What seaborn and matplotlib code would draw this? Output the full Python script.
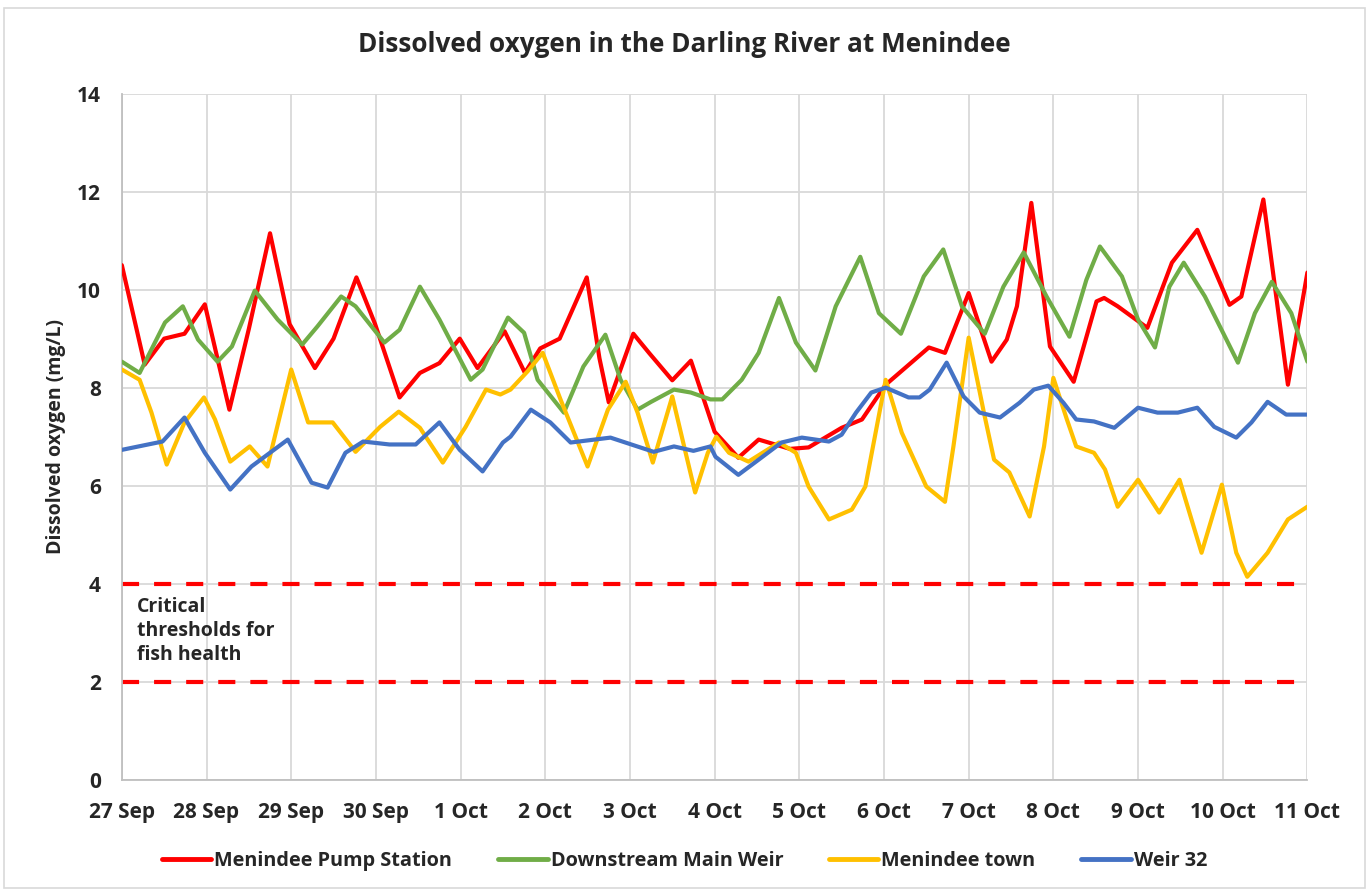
import numpy as np
import matplotlib.pyplot as plt
import pandas as pd
import seaborn as sns

# days after 27 Sep (0 = 27 Sep, 14 = 11 Oct), values in mg/L
pump_t = [0.0, 0.27, 0.5, 0.74, 0.98, 1.27, 1.5, 1.75, 1.98, 2.28, 2.5, 2.77, 2.99, 3.28, 3.52, 3.75, 3.99,
          4.2, 4.52, 4.76, 4.94, 5.17, 5.49, 5.64, 5.75, 6.04, 6.23, 6.5, 6.72, 7.0, 7.28, 7.52, 7.89, 8.11,
          8.5, 8.74, 9.02, 9.53, 9.72, 10.0, 10.27, 10.45, 10.57, 10.74, 10.96, 11.24, 11.51, 11.6, 11.76,
          12.11, 12.4, 12.7, 13.08, 13.22, 13.48, 13.77, 14.0]
pump_v = [10.5, 8.47, 9.0, 9.1, 9.7, 7.55, 9.2, 11.15, 9.3, 8.4, 9.0, 10.25, 9.3, 7.8, 8.3, 8.5, 9.0,
          8.4, 9.15, 8.3, 8.8, 9.0, 10.25, 8.6, 7.7, 9.1, 8.7, 8.15, 8.55, 7.1, 6.57, 6.94, 6.75, 6.78,
          7.18, 7.35, 8.06, 8.82, 8.71, 9.93, 8.53, 8.98, 9.66, 11.77, 8.84, 8.12, 9.76, 9.83, 9.66,
          9.22, 10.55, 11.22, 9.69, 9.86, 11.84, 8.06, 10.35]

weir_main_t = [0.0, 0.21, 0.51, 0.72, 0.9, 1.13, 1.3, 1.57, 1.84, 2.13, 2.31, 2.59, 2.76, 3.1, 3.28, 3.52,
               3.75, 4.12, 4.26, 4.56, 4.75, 4.91, 5.22, 5.45, 5.71, 5.89, 6.09, 6.25, 6.52, 6.72, 6.95,
               7.09, 7.32, 7.52, 7.76, 7.96, 8.19, 8.43, 8.72, 8.94, 9.2, 9.47, 9.7, 9.92, 10.19, 10.41,
               10.65, 10.92, 11.19, 11.39, 11.55, 11.81, 12.0, 12.2, 12.37, 12.54, 12.79, 13.18, 13.38,
               13.58, 13.81, 14.0]
weir_main_v = [8.53, 8.3, 9.33, 9.66, 8.98, 8.53, 8.84, 9.98, 9.39, 8.88, 9.25, 9.86, 9.66, 8.92, 9.18, 10.06,
               9.39, 8.16, 8.37, 9.43, 9.12, 8.16, 7.49, 8.43, 9.08, 8.16, 7.55, 7.71, 7.96, 7.9, 7.76,
               7.76, 8.16, 8.71, 9.83, 8.92, 8.35, 9.66, 10.67, 9.52, 9.1, 10.27, 10.82, 9.66, 9.1, 10.06,
               10.76, 9.86, 9.04, 10.2, 10.88, 10.27, 9.39, 8.82, 10.06, 10.55, 9.86, 8.51, 9.52,
               10.16, 9.52, 8.53]

town_t = [0.0, 0.21, 0.35, 0.53, 0.74, 0.97, 1.1, 1.28, 1.51, 1.72, 2.0, 2.2, 2.49, 2.76, 3.05, 3.27, 3.52,
          3.79, 4.06, 4.3, 4.47, 4.59, 4.79, 4.97, 5.18, 5.5, 5.74, 5.95, 6.09, 6.27, 6.5, 6.64, 6.77, 6.92,
          7.02, 7.17, 7.4, 7.76, 7.96, 8.11, 8.35, 8.62, 8.78, 9.02, 9.21, 9.5, 9.72, 9.82, 10.0, 10.18,
          10.3, 10.48, 10.72, 10.89, 11.0, 11.16, 11.27, 11.48, 11.61, 11.76, 12.0, 12.25, 12.49, 12.75,
          12.99, 13.16, 13.29, 13.53, 13.77, 14.0]
town_v = [8.37, 8.16, 7.49, 6.43, 7.29, 7.8, 7.35, 6.49, 6.8, 6.39, 8.37, 7.29, 7.29, 6.69, 7.2, 7.51, 7.18,
          6.47, 7.2, 7.96, 7.86, 7.96, 8.33, 8.71, 7.76, 6.39, 7.55, 8.12, 7.49, 6.47, 7.82, 6.8, 5.86, 6.67,
          7.0, 6.67, 6.49, 6.88, 6.67, 5.98, 5.31, 5.51, 5.98, 8.16, 7.08, 5.98, 5.67, 6.8, 9.02, 7.49,
          6.53, 6.27, 5.37, 6.8, 8.2, 7.35, 6.8, 6.67, 6.33, 5.57, 6.12, 5.45, 6.12, 4.63,
          6.02, 4.63, 4.14, 4.63, 5.31, 5.57]

weir32_t = [0.0, 0.31, 0.48, 0.74, 0.98, 1.28, 1.53, 1.96, 2.24, 2.43, 2.64, 2.85, 3.16, 3.47, 3.75, 3.99,
            4.26, 4.5, 4.59, 4.83, 5.06, 5.3, 5.77, 6.28, 6.52, 6.75, 6.95, 7.01, 7.28, 7.52, 7.79, 8.03,
            8.35, 8.5, 8.67, 8.85, 9.02, 9.29, 9.42, 9.54, 9.74, 9.94, 10.13, 10.37, 10.6, 10.77, 10.94,
            11.12, 11.27, 11.48, 11.72, 12.0, 12.23, 12.47, 12.7, 12.9, 13.16, 13.34, 13.53, 13.75, 14.0]
weir32_v = [6.73, 6.84, 6.9, 7.39, 6.67, 5.92, 6.39, 6.94, 6.06, 5.96, 6.67, 6.9, 6.84, 6.84, 7.29, 6.73,
            6.29, 6.88, 7.0, 7.55, 7.29, 6.88, 6.98, 6.69, 6.8, 6.71, 6.8, 6.59, 6.22, 6.53, 6.88, 6.98,
            6.9, 7.04, 7.49, 7.9, 8.0, 7.8, 7.8, 7.96, 8.51, 7.82, 7.49, 7.39, 7.69, 7.96, 8.04,
            7.69, 7.35, 7.31, 7.18, 7.59, 7.49, 7.49, 7.59, 7.2, 6.98, 7.29, 7.71, 7.45, 7.45]

sites = ['Menindee Pump Station', 'Downstream Main Weir', 'Menindee town', 'Weir 32']
colors = ['#FF0000', '#70AD47', '#FFC000', '#4472C4']
day_labels = ['27 Sep', '28 Sep', '29 Sep', '30 Sep', '1 Oct', '2 Oct', '3 Oct', '4 Oct',
              '5 Oct', '6 Oct', '7 Oct', '8 Oct', '9 Oct', '10 Oct', '11 Oct']
thresholds = [4, 2]

# long form table for seaborn
parts = []
for name, t, v in zip(sites, [pump_t, weir_main_t, town_t, weir32_t], [pump_v, weir_main_v, town_v, weir32_v]):
    parts.append(pd.DataFrame({'day': t, 'do': v, 'site': name}))
df = pd.concat(parts, ignore_index=True)

sns.set_theme(style='white')
plt.rcParams['font.family'] = ['Open Sans', 'DejaVu Sans']

fig = plt.figure(figsize=(13.69, 8.92), dpi=100)
ax = fig.add_axes([0.089, 0.126, 0.866, 0.769])

# chart border like the excel chart area
fig.patches.append(plt.Rectangle((0.003, 0.004), 0.994, 0.987, transform=fig.transFigure,
                                 fill=False, edgecolor='#d9d9d9', linewidth=1.2))

for th in thresholds:
    ax.axhline(th, color='#FF0000', linewidth=3, dashes=(4.1, 3.6), zorder=1)

sns.lineplot(data=df, x='day', y='do', hue='site', hue_order=sites, palette=colors,
             estimator=None, linewidth=3, ax=ax, zorder=3)
for ln in ax.lines:
    ln.set_solid_joinstyle('round')
    ln.set_solid_capstyle('round')

ax.set_xlim(0, 14)
ax.set_ylim(0, 14)
ax.set_xticks(range(15))
ax.set_xticklabels(day_labels)
ax.set_yticks(range(0, 15, 2))
ax.tick_params(axis='both', labelsize=15, length=0)
ax.tick_params(axis='x', pad=16)
ax.tick_params(axis='y', pad=15)
for lab in ax.get_xticklabels() + ax.get_yticklabels():
    lab.set_fontweight('bold')
ax.grid(True, color='#d9d9d9', linewidth=1.3)
ax.set_axisbelow(True)
for s in ['top', 'right']:
    ax.spines[s].set_visible(False)
ax.spines['left'].set_color('#bfbfbf')
ax.spines['bottom'].set_color('#bfbfbf')
ax.spines['left'].set_linewidth(1.3)
ax.spines['bottom'].set_linewidth(1.3)

ax.set_xlabel('')
ax.set_ylabel('Dissolved oxygen (mg/L)', fontsize=14, fontweight='bold', labelpad=8)
fig.text(0.5, 0.95, 'Dissolved oxygen in the Darling River at Menindee', fontsize=18.8,
         fontweight='bold', ha='center', va='center')

ax.text(0.18, 3.72, 'Critical\nthresholds for\nfish health', fontsize=14, fontweight='bold',
        va='top', ha='left', linespacing=1.25)

sns.move_legend(ax, 'center', bbox_to_anchor=(0.5, 0.035), bbox_transform=fig.transFigure, ncol=4,
                frameon=False, title=None, fontsize=14.3, handlelength=2.5, columnspacing=2.3,
                handletextpad=0.15)
for txt in ax.get_legend().get_texts():
    txt.set_fontweight('bold')
for h in ax.get_legend().legend_handles:
    h.set_linewidth(3.5)

fig.savefig('out.png', dpi=100)
